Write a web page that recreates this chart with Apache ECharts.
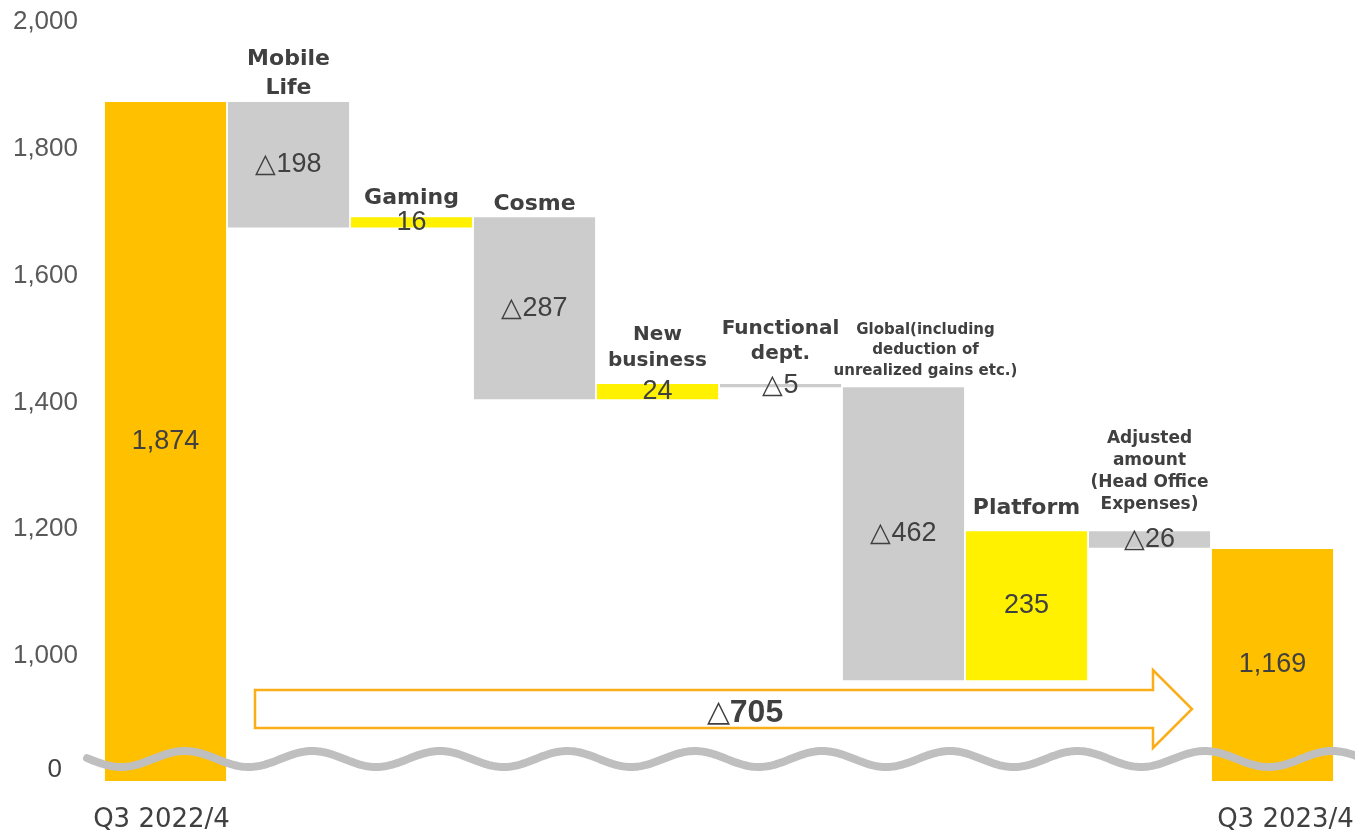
<!DOCTYPE html>
<html>
<head>
<meta charset="utf-8">
<script src="https://cdn.jsdelivr.net/npm/echarts@6/dist/echarts.min.js"></script>
<style>
  html, body { margin: 0; padding: 0; background: #fff; }
  #chart { width: 1355px; height: 834px; }
</style>
</head>
<body>
<div id="chart"></div>
<script>
// Operating profit bridge, Q3 2022/4 -> Q3 2023/4
const categories = [
  'Q3 2022/4',
  'Mobile\nLife',
  'Gaming',
  'Cosme',
  'New\nbusiness',
  'Functional\ndept.',
  'Global(including\ndeduction of\nunrealized gains etc.)',
  'Platform',
  'Adjusted\namount\n(Head Office\nExpenses)',
  'Q3 2023/4'
];
// first and last entries are totals, the rest are changes
const changes = [1874, -198, 16, -287, 24, -5, -462, 235, -26, 1169];
const yTickValues = [1000, 1200, 1400, 1600, 1800, 2000];
const yBreakValue = 820;   // drawn as "0" below the axis break

const Y_MIN = 803, Y_MAX = 2000;
const lastIdx = changes.length - 1;
const isTotal = i => i === 0 || i === lastIdx;

// stacked waterfall: invisible base + visible segment
const baseVals = [], segVals = [], topVals = [];
let running = 0;
changes.forEach((v, i) => {
  if (isTotal(i)) {
    baseVals.push(0); segVals.push(v); running = v;
  } else if (v >= 0) {
    baseVals.push(running); segVals.push(v); running += v;
  } else {
    running += v; baseVals.push(running); segVals.push(-v);
  }
  topVals.push(baseVals[i] + segVals[i]);
});

const COL_TOTAL = '#FFC000', COL_UP = '#FFF100', COL_DOWN = '#CCCCCC';
const TXT = '#404040';
const NUM_FONT = 'Arial, "Liberation Sans", sans-serif';
const NAME_FONT = 'Verdana, "DejaVu Sans", sans-serif';

const fmtNum = v => (v < 0 ? '\u25B3' : '') + Math.abs(v).toLocaleString('en-US');

// heading styles for each step label
const nameStyle = {
  1: { fontSize: 22, lineHeight: 29, distance: -1 },
  2: { fontSize: 22, lineHeight: 26, distance: 6 },
  3: { fontSize: 22, lineHeight: 26, distance: 0 },
  4: { fontSize: 20, lineHeight: 26, distance: 10 },
  5: { fontSize: 20, lineHeight: 25, distance: 18 },
  6: { fontSize: 15, lineHeight: 20.5, distance: 6, dx: 22 },
  7: { fontSize: 22, lineHeight: 28, distance: 9 },
  8: { fontSize: 17, lineHeight: 22, distance: 16 }
};

const chart = echarts.init(document.getElementById('chart'), null, { renderer: 'canvas' });

const segData = segVals.map((v, i) => ({
  value: v,
  itemStyle: { color: isTotal(i) ? COL_TOTAL : (changes[i] >= 0 ? COL_UP : COL_DOWN) }
}));

const nameData = topVals.map((v, i) => {
  if (isTotal(i)) return { value: '-' };
  const s = nameStyle[i];
  return {
    value: v,
    label: {
      show: true,
      position: 'top',
      distance: s.distance,
      offset: [s.dx || 0, 0],
      formatter: categories[i],
      fontFamily: NAME_FONT,
      fontWeight: 'bold',
      color: TXT,
      opacity: 1,
      fontSize: s.fontSize,
      lineHeight: s.lineHeight
    }
  };
});

// wavy axis-break line
const wavePts = [];
for (let x = 87; x <= 1360; x += 2) {
  wavePts.push([x, 759 - 8 * Math.sin(2 * Math.PI * (x - 153) / 127.5)]);
}

const netChange = changes[lastIdx] - changes[0];

chart.setOption({
  animation: false,
  backgroundColor: '#ffffff',
  grid: { left: 104, right: 21, top: 22, bottom: 53, containLabel: false, outerBoundsMode: 'none' },
  xAxis: {
    type: 'category',
    data: categories,
    axisLine: { show: false },
    axisTick: { show: false },
    axisLabel: {
      interval: 0,
      margin: 24,
      formatter: (v, i) => i === 0 ? '{f|' + v + '}' : (i === lastIdx ? '{l|' + v + '}' : ''),
      rich: {
        f: { fontFamily: NAME_FONT, fontSize: 26, color: TXT, lineHeight: 30, padding: [0, 8, 0, 0] },
        l: { fontFamily: NAME_FONT, fontSize: 26, color: TXT, lineHeight: 30, padding: [0, 0, 0, 26] }
      }
    }
  },
  yAxis: {
    type: 'value',
    min: Y_MIN,
    max: Y_MAX,
    splitLine: { show: false },
    axisLine: { show: false },
    axisTick: { show: false },
    axisLabel: {
      customValues: [yBreakValue].concat(yTickValues),
      margin: 26,
      formatter: v => v === yBreakValue ? '{z|0}' : '{n|' + v.toLocaleString('en-US') + '}',
      rich: {
        n: { fontFamily: NUM_FONT, fontSize: 26, color: '#595959' },
        z: { fontFamily: NUM_FONT, fontSize: 26, color: '#404040', padding: [0, 16, 0, 0] }
      }
    }
  },
  series: [
    {
      name: 'base',
      type: 'bar',
      stack: 'wf',
      data: baseVals,
      barCategoryGap: '1.5%',
      itemStyle: { color: 'rgba(0,0,0,0)' },
      emphasis: { disabled: true },
      silent: true
    },
    {
      name: 'change',
      type: 'bar',
      stack: 'wf',
      data: segData,
      barCategoryGap: '1.5%',
      label: {
        show: true,
        position: 'inside',
        fontFamily: NUM_FONT,
        fontSize: 27,
        color: TXT,
        formatter: p => fmtNum(changes[p.dataIndex])
      }
    },
    {
      name: 'names',
      type: 'scatter',
      data: nameData,
      symbol: 'circle',
      symbolSize: 0,
      itemStyle: { color: TXT, opacity: 1 },
      emphasis: { disabled: true },
      silent: true,
      z: 5
    }
  ],
  graphic: [
    {
      type: 'polyline',
      z: 100,
      shape: { points: wavePts },
      style: { stroke: '#BFBFBF', lineWidth: 8, fill: null, lineCap: 'round' }
    },
    {
      type: 'polygon',
      z: 100,
      shape: {
        points: [[255, 690], [1153, 690], [1153, 670], [1192, 709], [1153, 748], [1153, 728], [255, 728]]
      },
      style: { fill: '#ffffff', stroke: '#FBAE17', lineWidth: 2.5 }
    },
    {
      type: 'text',
      z: 101,
      x: 745,
      y: 713,
      style: {
        text: '{t|\u25B3}{n|' + Math.abs(netChange) + '}',
        align: 'center',
        verticalAlign: 'middle',
        rich: {
          t: { fontFamily: NUM_FONT, fontSize: 30, fill: TXT },
          n: { fontFamily: NUM_FONT, fontSize: 32, fontWeight: 'bold', fill: TXT }
        }
      }
    }
  ]
});
</script>
</body>
</html>
